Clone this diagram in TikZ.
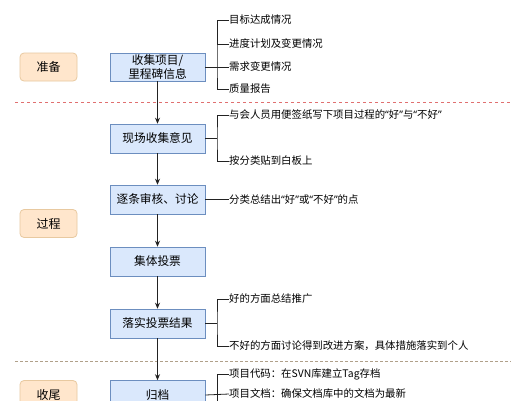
\documentclass[tikz,border=0pt]{standalone}
\usepackage{fontspec}
\setmainfont{Noto Sans CJK SC}
\newfontfamily\qfont{Noto Sans}
\newcommand\myqo{{\qfont “}}
\newcommand\myqc{{\qfont ”}}
\usetikzlibrary{arrows.meta}
\definecolor{boxfill}{HTML}{DAE8FC}
\definecolor{boxline}{HTML}{6C8EBF}
\definecolor{phfill}{HTML}{FFE6CC}
\definecolor{phline}{HTML}{E8C9A0}
\definecolor{ln}{HTML}{222222}
\definecolor{redd}{HTML}{E07070}
\definecolor{brownd}{HTML}{B0A08A}
\tikzset{
  phase/.style={draw=phline, fill=phfill, rounded corners=4pt, minimum width=57pt, minimum height=28pt, inner sep=0pt, font=\fontsize{12}{14}\selectfont, line width=0.8pt},
  mainbox/.style={draw=boxline, fill=boxfill, minimum width=95pt, minimum height=29pt, inner sep=0pt, font=\fontsize{11.7}{14}\selectfont, align=center, line width=0.6pt},
  lbl/.style={anchor=west, inner sep=0pt, font=\fontsize{10.4}{12}\selectfont},
  flow/.style={draw=ln, line width=0.8pt, -{Stealth[length=6pt,width=5pt]}},
  conn/.style={draw=ln, line width=0.8pt},
}
\begin{document}
\begin{tikzpicture}[x=1pt,y=-1pt]
\useasboundingbox (0,0) rectangle (525,400);
\clip (0,0) rectangle (525,400);
\fill[white] (0,0) rectangle (525,400);
% dashed separators
\coordinate (d1a) at (15,102); \coordinate (d1b) at (511,102);
\coordinate (d2a) at (15,361); \coordinate (d2b) at (511,361);
\draw[redd, line width=0.7pt, dash pattern=on 3pt off 3pt] (d1a) -- (d1b);
\draw[brownd, line width=0.9pt, dash pattern=on 3pt off 2pt] (d2a) -- (d2b);
% phases
\node[phase] (p1) at (48.5,67) {准备};
\node[phase] (p2) at (48.5,223.5) {过程};
\node[phase] (p3) at (48.5,394.5) {收尾};
% main boxes
\node[mainbox, minimum height=28pt] (b1) at (157.5,67) {收集项目/\\里程碑信息};
\node[mainbox] (b2) at (157.5,138.5) {现场收集意见};
\node[mainbox] (b3) at (157.5,199.5) {逐条审核、讨论};
\node[mainbox] (b4) at (157.5,261.5) {集体投票};
\node[mainbox] (b5) at (157.5,323.5) {落实投票结果};
\node[mainbox] (b6) at (157.5,395) {归档};
% arrows
\draw[flow] (b1) -- (b2);
\draw[flow] (b2) -- (b3);
\draw[flow] (b3) -- (b4);
\draw[flow] (b4) -- (b5);
\draw[flow] (b5) -- (b6);
% labels b1
\node[lbl] (l11) at (229,20) {目标达成情况};
\node[lbl] (l12) at (229,44) {进度计划及变更情况};
\node[lbl] (l13) at (229,67) {需求变更情况};
\node[lbl] (l14) at (229,89) {质量报告};
\draw[conn] (b1.east) -- (l13.west);
\draw[conn] (l11.west) -| (217,67) |- (l14.west);
\draw[conn] (217,44) -- (l12.west);
% labels b2
\node[lbl] (l21) at (229,115) {与会人员用便签纸写下项目过程的\myqo 好\myqc 与\myqo 不好\myqc};
\node[lbl] (l22) at (229,161) {按分类贴到白板上};
\draw[conn] (b2.east) -- (217,138.5);
\draw[conn] (l21.west) -| (217,138.5) |- (l22.west);
% labels b3
\node[lbl] (l31) at (229,199.5) {分类总结出\myqo 好\myqc 或\myqo 不好\myqc 的点};
\draw[conn] (b3.east) -- (l31.west);
% labels b5
\node[lbl] (l51) at (229,299) {好的方面总结推广};
\node[lbl] (l52) at (229,346) {不好的方面讨论得到改进方案，具体措施落实到个人};
\draw[conn] (b5.east) -- (217,323.5);
\draw[conn] (l51.west) -| (217,323.5) |- (l52.west);
% labels b6
\node[lbl] (l61) at (229,374) {项目代码：在SVN库建立Tag存档};
\node[lbl] (l62) at (229,394) {项目文档：确保文档库中的文档为最新};
\coordinate (b6end) at (217,405);
\draw[conn] (b6.east) -- (l62.west);
\draw[conn] (l61.west) -| (b6end);
\end{tikzpicture}
\end{document}
